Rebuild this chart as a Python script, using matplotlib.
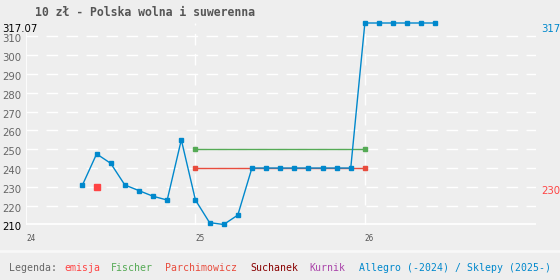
import matplotlib.pyplot as plt

plt.rcParams["lines.scale_dashes"] = False

# months as fractional years (24 = 2024)
allegro_x = [24 + m / 12 for m in range(4, 12)] + [25 + m / 12 for m in range(0, 12)] + [26 + m / 12 for m in range(0, 6)]
allegro_y = [231, 247.5, 242.5, 231, 228, 225, 223, 255,
             223, 211, 210, 215, 240, 240, 240, 240, 240, 240, 240, 240,
             317.07, 317.07, 317.07, 317.07, 317.07, 317.07]
fischer_x = [25.0, 26.0]
fischer_y = [250, 250]
parch_x = [25.0, 26.0]
parch_y = [240, 240]
emisja_x = [24.417]
emisja_y = [230]

y_ticks = [220, 230, 240, 250, 260, 270, 280, 290, 300, 310]
x_ticks = [24, 25, 26]
title = "10 zł - Polska wolna i suwerenna"
legend_items = [("Legenda:", "#666666", 9), ("emisja", "#ff4444", 64), ("Fischer", "#55aa55", 111),
                ("Parchimowicz", "#e84c3d", 165), ("Suchanek", "#880000", 250),
                ("Kurnik", "#aa44aa", 309), ("Allegro (-2024) / Sklepy (2025-)", "#0088cc", 359)]

BG = "#eeeeee"
BLUE = "#0088cc"
W, H = 560, 280

fig = plt.figure(figsize=(W / 100, H / 100), dpi=100, facecolor=BG)
ax = fig.add_axes([26 / W, 1 - 224.5 / H, 510 / W, 201.5 / H], facecolor=BG)
ymin, ymax = 210, 317.07
ax.set_xlim(24, 27.01)
ax.set_ylim(ymin, ymax)
for s in ax.spines.values():
    s.set_visible(False)
ax.set_xticks([])
ax.set_yticks([])

dash = (0, (8.4, 6.0))
for v in y_ticks:
    ax.axhline(v, color="white", lw=1.0, ls=dash, zorder=1)
for v in x_ticks[1:]:
    ax.axvline(v, color="white", lw=1.0, ls=dash, zorder=1)
ax.axhline(ymin, color="white", lw=1.2, zorder=1)
ax.axvline(24, color="white", lw=1.2, zorder=1)

ax.plot(fischer_x, fischer_y, color="#55aa55", lw=1.0, marker="s", ms=2.8, zorder=3)
ax.plot(parch_x, parch_y, color="#e84c3d", lw=1.0, marker="s", ms=2.8, zorder=3)
ax.plot(allegro_x, allegro_y, color=BLUE, lw=1.0, marker="s", ms=2.8, zorder=4, clip_on=False)
ax.plot(emisja_x, emisja_y, color="#ff4444", ls="none", marker="s", ms=4.5, zorder=4)

mono = "DejaVu Sans Mono"
for v in y_ticks:
    ax.annotate(str(v), (0, v), xycoords=("figure pixels", "data"), xytext=(2, -3),
                textcoords="offset pixels", ha="left", va="center", fontsize=7.3, color="#666666")
ax.annotate("210", (0, ymin), xycoords=("figure pixels", "data"), xytext=(2, -3),
            textcoords="offset pixels", ha="left", va="center", fontsize=7.3, color="black")
ax.annotate("317.07", (0, ymax), xycoords=("figure pixels", "data"), xytext=(2, -6),
            textcoords="offset pixels", ha="left", va="center", fontsize=7.3, color="black")
for v in x_ticks:
    ax.annotate(str(v), (v, ymin), xytext=(0, -14), textcoords="offset pixels",
                ha="left", va="center", fontsize=5.5, color="#555555", family=mono)

ax.annotate("317", (1, allegro_y[-1]), xycoords=("axes fraction", "data"), xytext=(5, -6),
            textcoords="offset pixels", ha="left", va="center", fontsize=7.3, color=BLUE)
ax.annotate("230", (1, emisja_y[0]), xycoords=("axes fraction", "data"), xytext=(5, -4),
            textcoords="offset pixels", ha="left", va="center", fontsize=7.3, color="#ff4444")

fig.text(35 / W, 1 - 13 / H, title, ha="left", va="center", fontsize=8.3,
         fontweight="bold", color="#555555", family=mono)

fig.add_artist(plt.Line2D([0, 1], [1 - 251 / H, 1 - 251 / H], color="#f8f8f8", lw=2))
for text, color, x in legend_items:
    fig.text(x / W, 1 - 268 / H, text, ha="left", va="center", fontsize=7.1,
             color=color, family=mono)

fig.savefig("out.png", dpi=100, facecolor=BG)
